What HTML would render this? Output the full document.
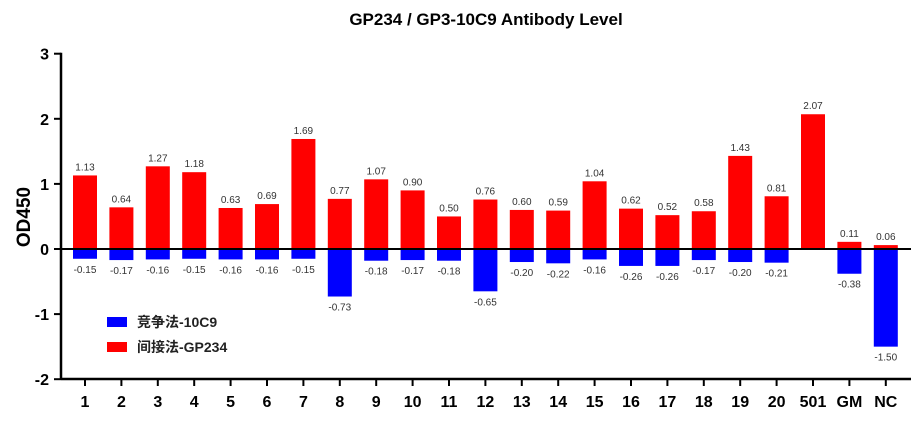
<!DOCTYPE html>
<html><head><meta charset="utf-8"><style>
body{margin:0;background:#fff;}
svg{display:block;font-family:"Liberation Sans","Noto Sans CJK SC",sans-serif;}
</style></head><body>
<svg id="chart" width="913" height="421">
<text x="486" y="25" text-anchor="middle" font-size="17" font-weight="bold">GP234 / GP3-10C9 Antibody Level</text>
<text transform="translate(30,217) rotate(-90)" text-anchor="middle" font-size="19" font-weight="bold">OD450</text>
<g id="bars"></g>
<g id="axes"></g>
<g>
<rect x="107" y="317" width="20" height="10" fill="#0000ff"></rect>
<text x="137" y="327" font-size="14" font-weight="bold" fill="#222">竞争法-10C9</text>
<rect x="107" y="342" width="20" height="10" fill="#ff0000"></rect>
<text x="137" y="352" font-size="14" font-weight="bold" fill="#222">间接法-GP234</text>
</g>
</svg>
<script>
const categories=["1","2","3","4","5","6","7","8","9","10","11","12","13","14","15","16","17","18","19","20","501","GM","NC"];
const indirectValues=[1.13,0.64,1.27,1.18,0.63,0.69,1.69,0.77,1.07,0.90,0.50,0.76,0.60,0.59,1.04,0.62,0.52,0.58,1.43,0.81,2.07,0.11,0.06];
const competitiveValues=[-0.15,-0.17,-0.16,-0.15,-0.16,-0.16,-0.15,-0.73,-0.18,-0.17,-0.18,-0.65,-0.20,-0.22,-0.16,-0.26,-0.26,-0.17,-0.20,-0.21,null,-0.38,-1.50];
const yTicks=[-2,-1,0,1,2,3];
const NS="http://www.w3.org/2000/svg";
const y0px=249,unit=65.1,x0=85,step=36.4,bw=24,axX=61,axBottom=379,axRight=911;
function yS(v){return y0px-v*unit;}
function xS(i){return x0+i*step;}
function mk(tag,attrs,parent){const e=document.createElementNS(NS,tag);for(const k in attrs)e.setAttribute(k,attrs[k]);parent.appendChild(e);return e;}
const bars=document.getElementById('bars'),axes=document.getElementById('axes');
categories.forEach((c,i)=>{
  const cx=xS(i);
  const v=indirectValues[i];
  if(v!=null){
    const r=mk('rect',{x:cx-bw/2,y:yS(v),width:bw,height:yS(0)-yS(v),fill:'#ff0000'},bars);
    
    
    const t=mk('text',{x:cx,y:yS(v)-5,'text-anchor':'middle','font-size':'10',fill:'#333'},bars);
    t.textContent=v.toFixed(2);
    
    
  }
  const w=competitiveValues[i];
  if(w!=null){
    const r=mk('rect',{x:cx-bw/2,y:yS(0),width:bw,height:yS(w)-yS(0),fill:'#0000ff'},bars);
    
    
    const t=mk('text',{x:cx,y:yS(w)+14,'text-anchor':'middle','font-size':'10',fill:'#333'},bars);
    t.textContent=w.toFixed(2);
    
    
  }
  const tk=mk('line',{x1:cx,x2:cx,y1:axBottom,y2:axBottom+7,stroke:'#000','stroke-width':2},axes);
  
  
  const tl=mk('text',{x:cx,y:axBottom+28,'text-anchor':'middle','font-size':'16','font-weight':'bold'},axes);
  tl.textContent=c;
  
  
});
const zl=mk('line',{x1:axX,x2:axRight,y1:yS(0),y2:yS(0),stroke:'#000','stroke-width':2},axes);


const ya=mk('line',{x1:axX,x2:axX,y1:yS(3)-1,y2:axBottom+1,stroke:'#000','stroke-width':2.5},axes);


const xa=mk('line',{x1:axX,x2:axRight,y1:axBottom,y2:axBottom,stroke:'#000','stroke-width':2.5},axes);


yTicks.forEach(v=>{
  const l=mk('line',{x1:axX-7,x2:axX,y1:yS(v),y2:yS(v),stroke:'#000','stroke-width':2},axes);
  
  
  const t=mk('text',{x:axX-12,y:yS(v)+6,'text-anchor':'end','font-size':'16','font-weight':'bold'},axes);
  t.textContent=v;
  
  
});
</script>
</body></html>
